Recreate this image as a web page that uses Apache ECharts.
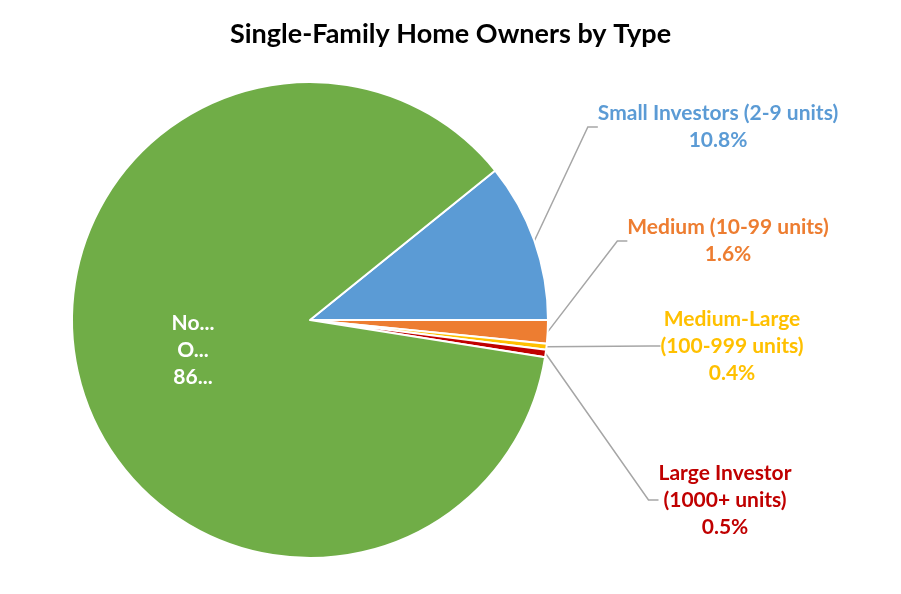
<!DOCTYPE html>
<html><head><meta charset="utf-8">
<script src="https://cdn.jsdelivr.net/npm/echarts@6/dist/echarts.min.js"></script>
<style>html,body{margin:0;background:#fff}#c{width:901px;height:594px}</style>
</head><body><div id="c"></div>
<script>
var categories = ['Small Investors (2-9 units)', 'Medium (10-99 units)', 'Medium-Large\n(100-999 units)', 'Large Investor\n(1000+ units)', 'Not Investor\nOwned'];
var values = [10.8, 1.6, 0.4, 0.5, 86.7];
var colors = ['#5B9BD5', '#ED7D31', '#FFC000', '#C00000', '#70AD47'];
var labelPos = [[718, 127], [728, 241], [732, 346], [725, 500], [193, 350]];

var chart = echarts.init(document.getElementById('c'));
chart.setOption({
  title: {text: 'Single-Family Home Owners by Type', left: 'center', top: 16,
    textStyle: {fontFamily: 'Lato', fontWeight: 'bold', fontSize: 27, color: '#000'}},
  series: [{
    type: 'pie', center: [310, 320], radius: 238, startAngle: 38.9, clockwise: true,
    animation: false,
    itemStyle: {borderColor: '#fff', borderWidth: 2},
    labelLine: {show: true, length: 10, length2: 10, lineStyle: {color: '#A6A6A6', width: 1.5}},
    data: values.map(function (v, i) {
      return {
        value: v, name: categories[i], itemStyle: {color: colors[i]},
        label: {color: i === 4 ? '#fff' : colors[i]},
        labelLine: {show: i !== 4}
      };
    }),
    label: {
      show: true, fontFamily: 'Lato', fontWeight: 'bold', fontSize: 21, lineHeight: 27,
      align: 'center',
      formatter: function (p) { return p.name + '\n' + p.value.toFixed(1) + '%'; }
    },
    labelLayout: function (p) {
      var pos = labelPos[p.dataIndex];
      return {x: pos[0], y: pos[1], align: 'center', verticalAlign: 'middle', moveOverlap: null};
    }
  }]
});
</script></body></html>
